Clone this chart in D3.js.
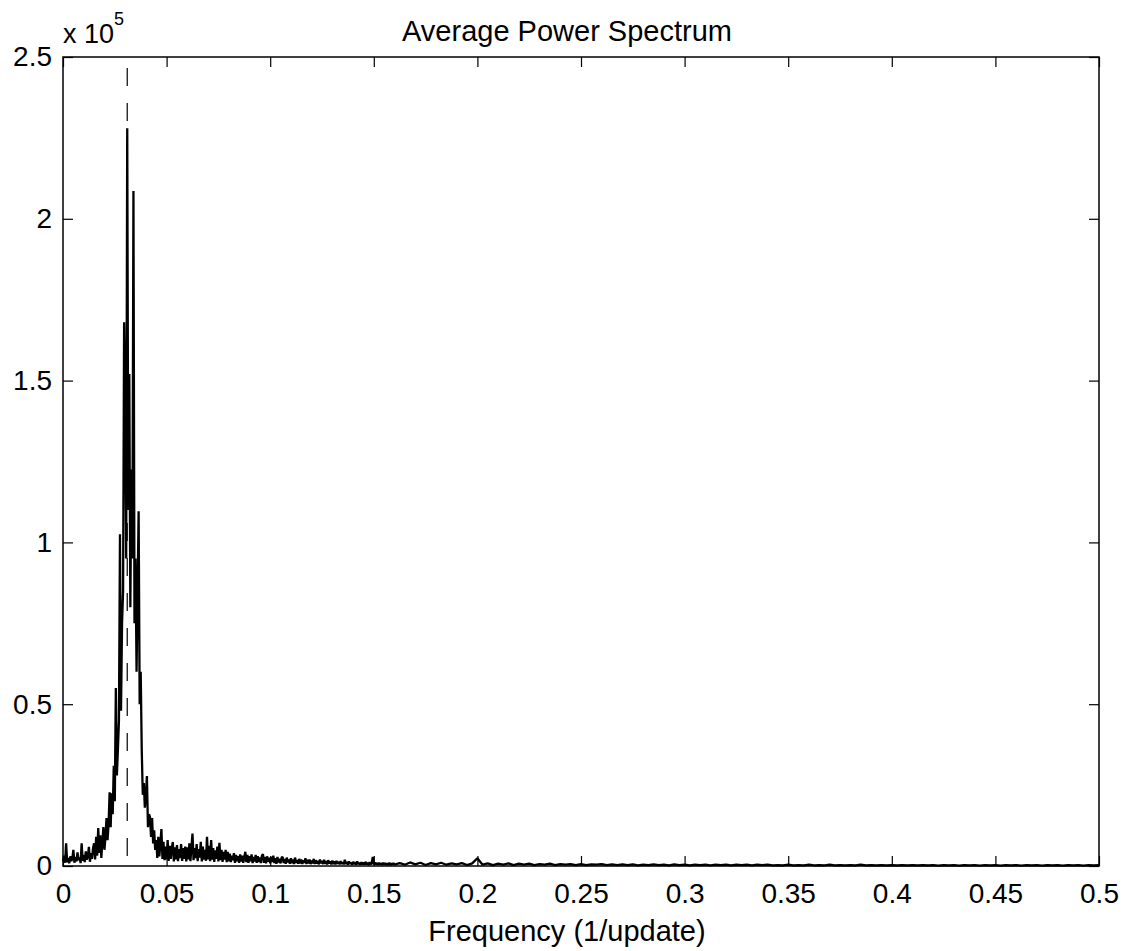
<!DOCTYPE html>
<html>
<head>
<meta charset="utf-8">
<script src="https://cdn.jsdelivr.net/npm/d3@7"></script>
<style>
  html, body { margin: 0; padding: 0; background: #fff; }
  svg text { font-family: "Liberation Sans", Arial, Helvetica, sans-serif; fill: #000; }
</style>
</head>
<body>
<svg id="chart" width="1128" height="951"></svg>
<script>
// power in units of 1e3, low band 0 .. 0.16 every 0.0005
var lowStep = 0.0005;
var lowPower = [
  1.5, 3.2, 1.0, 7.0, 1.2, 2.5, 0.8, 3.0, 1.5, 2.2,
  5.0, 1.0, 2.8, 1.4, 4.2, 1.8, 2.6, 0.9, 7.0, 1.6,
  3.4, 1.2, 4.5, 2.0, 3.0, 5.9, 1.3, 4.0, 2.2, 5.5,
  7.0, 2.0, 9.0, 3.2, 11.7, 4.0, 9.5, 2.5, 7.5, 12.0,
  5.0, 9.0, 14.8, 8.0, 13.0, 22.8, 12.0, 22.5, 16.0, 31.0,
  20.0, 55.0, 28.0, 36.0, 45.0, 102.5, 48.0, 75.0, 85.0, 168.0,
  144.0, 95.0, 228.0, 110.0, 152.0, 80.0, 122.5, 95.0, 208.6, 75.0,
  95.0, 60.0, 85.0, 109.6, 50.0, 60.0, 36.0, 22.0, 25.6, 18.0,
  22.0, 27.8, 12.0, 16.0, 15.0, 9.0, 14.8, 7.0, 11.0, 5.0,
  8.0, 2.5, 9.0, 3.0, 7.0, 11.4, 2.2, 7.5, 1.8, 6.0,
  2.0, 8.0, 1.6, 6.2, 2.2, 5.5, 7.4, 1.4, 5.8, 2.0,
  6.5, 1.5, 5.2, 2.4, 6.8, 1.6, 5.5, 2.2, 6.0, 1.4,
  5.8, 2.0, 7.0, 1.5, 6.0, 10.0, 1.8, 5.5, 2.4, 6.8,
  1.5, 5.2, 2.6, 7.5, 1.4, 6.0, 2.0, 5.0, 1.6, 9.0,
  2.0, 6.2, 1.5, 8.0, 2.0, 5.5, 1.3, 4.8, 2.2, 6.0,
  1.4, 7.2, 1.8, 5.0, 1.3, 4.4, 2.0, 5.0, 1.2, 4.4,
  1.4, 3.8, 1.2, 3.2, 1.8, 4.0, 1.0, 3.4, 1.5, 3.0,
  1.0, 3.6, 1.4, 3.2, 1.0, 2.8, 4.4, 1.2, 3.4, 1.0,
  3.0, 1.5, 3.6, 0.9, 2.8, 1.4, 3.4, 1.0, 3.0, 1.2,
  2.6, 0.9, 3.2, 3.7, 1.0, 2.8, 0.8, 3.0, 1.3, 2.6,
  0.8, 2.8, 1.2, 3.2, 0.9, 2.4, 0.7, 2.8, 1.1, 2.2,
  0.8, 2.6, 2.8, 0.9, 2.2, 0.7, 2.6, 1.1, 2.0, 0.7,
  2.4, 0.9, 2.0, 0.6, 2.6, 1.0, 1.8, 0.7, 2.2, 0.8,
  2.0, 0.6, 1.8, 1.0, 2.4, 0.6, 1.9, 0.8, 2.0, 0.6,
  1.7, 0.8, 2.2, 0.6, 1.8, 0.7, 1.6, 0.5, 2.0, 0.8,
  1.6, 0.6, 1.9, 0.7, 1.5, 0.5, 1.8, 0.8, 1.4, 0.5,
  1.7, 0.6, 1.4, 0.5, 1.6, 0.7, 1.3, 0.5, 1.5, 0.6,
  1.2, 0.5, 1.9, 0.6, 1.3, 0.4, 1.4, 0.7, 1.1, 0.4,
  1.3, 0.5, 1.2, 0.4, 1.4, 0.6, 1.0, 0.4, 1.2, 0.5,
  1.1, 0.4, 1.3, 0.5, 1.0, 0.3, 1.2, 0.5, 0.9, 2.8,
  0.4, 1.1, 0.5, 0.9, 0.3, 1.0, 0.5, 0.8, 0.3, 1.0,
  0.4, 0.9, 0.3, 0.8, 0.4, 1.0, 0.3, 0.8, 0.4, 0.9,
  0.4
];
// tail 0.1625 .. 0.5 every 0.0025
var tailStart = 0.1625;
var tailStep = 0.0025;
var tailPower = [
  0.9, 0.4, 1.1, 0.5, 1.0, 0.3, 0.9, 0.5, 1.0, 0.4,
  0.8, 0.5, 0.9, 0.3, 0.8, 2.4, 0.4, 0.8, 0.3, 0.7,
  0.4, 0.8, 0.3, 0.7, 0.4, 0.7, 0.3, 0.6, 0.4, 0.7,
  0.3, 0.6, 0.4, 0.6, 0.3, 0.6, 0.3, 0.5, 0.4, 0.6,
  0.3, 0.5, 0.3, 0.5, 0.3, 0.5, 0.2, 0.4, 0.3, 0.5,
  0.3, 0.4, 0.2, 0.5, 0.3, 0.4, 0.2, 0.4, 0.3, 0.4,
  0.2, 0.4, 0.3, 0.4, 0.2, 0.4, 0.3, 0.4, 0.2, 0.4,
  0.3, 0.4, 0.2, 0.3, 0.2, 0.4, 0.2, 0.3, 0.2, 0.4,
  0.2, 0.3, 0.2, 0.4, 0.2, 0.3, 0.2, 0.3, 0.2, 0.4,
  0.2, 0.3, 0.2, 0.3, 0.2, 0.3, 0.2, 0.3, 0.2, 0.3,
  0.2, 0.3, 0.2, 0.3, 0.1, 0.3, 0.2, 0.3, 0.1, 0.3,
  0.2, 0.3, 0.1, 0.3, 0.2, 0.3, 0.1, 0.3, 0.2, 0.3,
  0.1, 0.3, 0.2, 0.3, 0.1, 0.3, 0.2, 0.3, 0.1, 0.3,
  0.2, 0.3, 0.1, 0.3, 0.2, 0.3
];
var peakFreq = 0.031;

var xTicks = [0, 0.05, 0.1, 0.15, 0.2, 0.25, 0.3, 0.35, 0.4, 0.45, 0.5];
var xTickLabels = ["0", "0.05", "0.1", "0.15", "0.2", "0.25", "0.3", "0.35", "0.4", "0.45", "0.5"];
var yTicks = [0, 50, 100, 150, 200, 250];
var yTickLabels = ["0", "0.5", "1", "1.5", "2", "2.5"];

var margin = {left: 63, right: 29, top: 57, bottom: 85};
var W = 1128, H = 951;
var iw = W - margin.left - margin.right;
var ih = H - margin.top - margin.bottom;

var svg = d3.select("#chart");
var g = svg.append("g").attr("transform", "translate(" + margin.left + "," + margin.top + ")");

var x = d3.scaleLinear().domain([0, 0.5]).range([0, iw]);
var y = d3.scaleLinear().domain([0, 250]).range([ih, 0]);

var pts = lowPower.map(function (p, i) { return {f: i * lowStep, p: p}; })
  .concat(tailPower.map(function (p, i) { return {f: tailStart + i * tailStep, p: p}; }));

var line = d3.line().x(function (d) { return x(d.f); }).y(function (d) { return y(d.p); });

g.append("path")
  .datum(pts)
  .attr("d", line)
  .attr("fill", "none")
  .attr("stroke", "#000")
  .attr("stroke-width", 2.3)
  .attr("stroke-linejoin", "bevel");

// dashed marker at the peak frequency
g.append("line")
  .attr("x1", x(peakFreq)).attr("x2", x(peakFreq))
  .attr("y1", y(250)).attr("y2", y(0))
  .attr("stroke", "#000")
  .attr("stroke-width", 1.2)
  .attr("stroke-dasharray", "18,17")
  .attr("stroke-dashoffset", 24);

function fmt(ticks, labels) {
  return function (d) { return labels[ticks.indexOf(d)]; };
}

var fs = "28px";
var axBottom = g.append("g").attr("transform", "translate(0," + ih + ")")
  .call(d3.axisBottom(x).tickValues(xTicks).tickFormat(fmt(xTicks, xTickLabels))
    .tickSizeInner(-10).tickSizeOuter(0).tickPadding(17));
var axLeft = g.append("g")
  .call(d3.axisLeft(y).tickValues(yTicks).tickFormat(fmt(yTicks, yTickLabels))
    .tickSizeInner(-10).tickSizeOuter(0).tickPadding(11));
var axTop = g.append("g")
  .call(d3.axisTop(x).tickValues(xTicks).tickFormat("").tickSizeInner(-10).tickSizeOuter(0));
var axRight = g.append("g").attr("transform", "translate(" + iw + ",0)")
  .call(d3.axisRight(y).tickValues(yTicks).tickFormat("").tickSizeInner(-10).tickSizeOuter(0));

[axBottom, axLeft, axTop, axRight].forEach(function (a) {
  a.select(".domain").remove();
  a.selectAll("line").attr("stroke", "#000").attr("stroke-width", 1.2);
  a.selectAll("text").style("font-size", fs).attr("fill", "#000");
});

g.append("rect")
  .attr("x", 0).attr("y", 0).attr("width", iw).attr("height", ih)
  .attr("fill", "none").attr("stroke", "#000").attr("stroke-width", 1.5);

// title, x label, exponent
var textCenter = 567;
svg.append("text")
  .attr("x", textCenter).attr("y", 41)
  .attr("text-anchor", "middle").style("font-size", "29px")
  .text("Average Power Spectrum");

svg.append("text")
  .attr("x", textCenter).attr("y", 941)
  .attr("text-anchor", "middle").style("font-size", "29px")
  .text("Frequency (1/update)");

var expo = svg.append("text").attr("x", 63).attr("y", 43).style("font-size", "27px");
expo.append("tspan").text("x 10");
expo.append("tspan").attr("dy", -18).style("font-size", "18px").text("5");
</script>
</body>
</html>
